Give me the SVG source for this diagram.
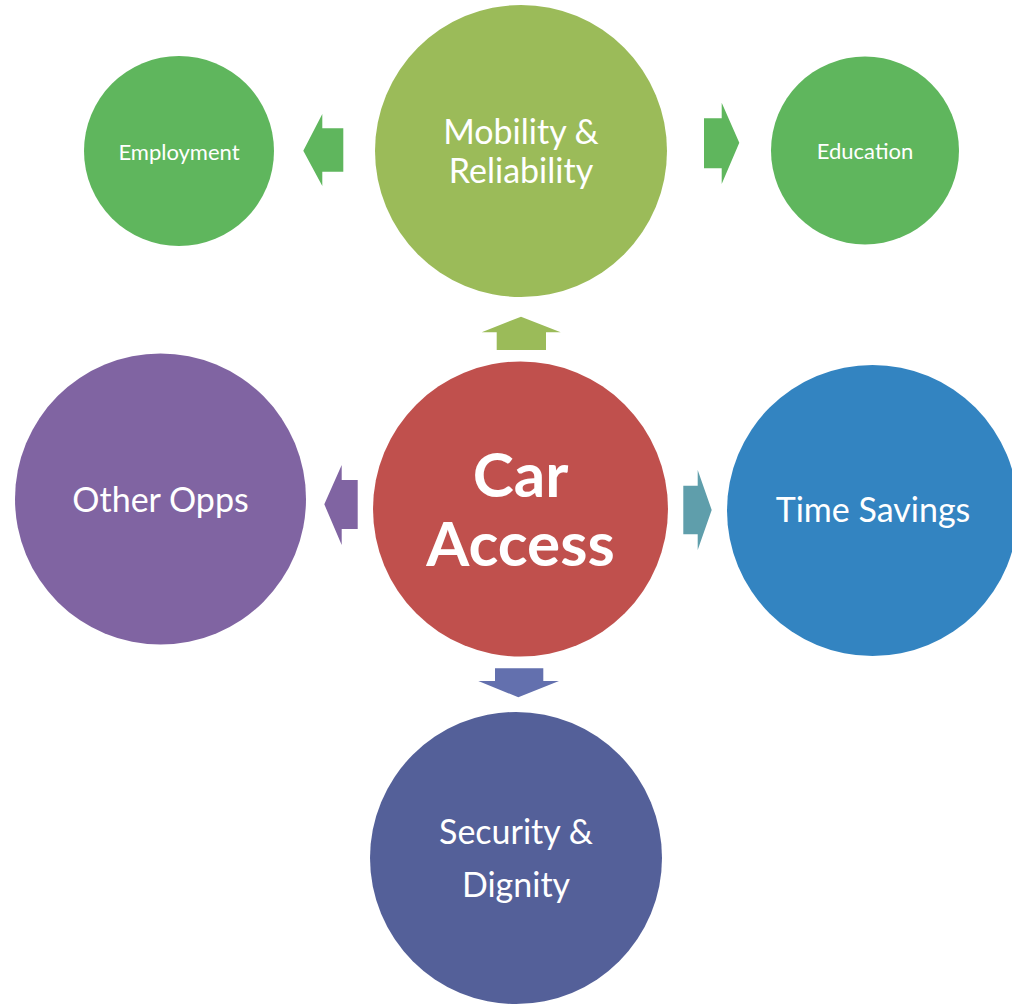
<svg xmlns="http://www.w3.org/2000/svg" width="1012" height="1005" viewBox="0 0 1012 1005">
  <style>
    .lbl { font-family: Lato, "Liberation Sans", sans-serif; fill: #ffffff; text-anchor: middle; }
    .sm { font-size: 22px; }
    .md { font-size: 34px; }
    .lg { font-size: 62px; font-weight: bold; }
  </style>
  <rect width="1012" height="1005" fill="#ffffff"/>

  <!-- block arrows between the centre and outer circles -->
  <g id="connectors">
    <polygon fill="#9bbb59" points="496.7,350 496.7,332.3 481.7,332.3 521,316.7 560.7,332.3 546,332.3 546,350"/>
    <polygon fill="#5fb65d" points="343.3,128.3 322.3,128.3 322.3,114 303.3,150.7 322.3,186 322.3,171.7 343.3,171.7"/>
    <polygon fill="#5fb65d" points="704,118.3 721.7,118.3 721.7,102.7 739.3,142.7 721.7,184 721.7,168.3 704,168.3"/>
    <polygon fill="#8064a2" points="357.7,480 341.7,480 341.7,465 324.3,504.3 341.7,545 341.7,529 357.7,529"/>
    <polygon fill="#5f9eab" points="683.3,485.7 697.7,485.7 697.7,470 711.7,510 697.7,550 697.7,534.3 683.3,534.3"/>
    <polygon fill="#6370ae" points="495,668.3 543.3,668.3 543.3,681 559,681 518.3,697.3 478.3,681 495,681"/>
  </g>

  <g id="employment">
    <circle cx="179" cy="151" r="95" fill="#5fb65d"/>
    <text class="lbl sm" x="179" y="159.5">Employment</text>
  </g>

  <g id="mobility">
    <circle cx="521" cy="151" r="146" fill="#9bbb59"/>
    <text class="lbl md" x="521" y="144">Mobility &amp;</text>
    <text class="lbl md" x="521" y="183">Reliability</text>
  </g>

  <g id="education">
    <circle cx="865" cy="150.5" r="94" fill="#5fb65d"/>
    <text class="lbl sm" x="865" y="159">Education</text>
  </g>

  <g id="other-opps">
    <circle cx="160.5" cy="499" r="145.5" fill="#8064a2"/>
    <text class="lbl md" x="160.5" y="512">Other Opps</text>
  </g>

  <g id="car-access">
    <circle cx="520.5" cy="509" r="147.5" fill="#c0504d"/>
    <text class="lbl lg" x="520.5" y="497">Car</text>
    <text class="lbl lg" x="520.5" y="566">Access</text>
  </g>

  <g id="time-savings">
    <circle cx="872.5" cy="510.5" r="145.5" fill="#3384c1"/>
    <text class="lbl md" x="873" y="522">Time Savings</text>
  </g>

  <g id="security">
    <circle cx="516" cy="858" r="146" fill="#546099"/>
    <text class="lbl md" x="516" y="844">Security &amp;</text>
    <text class="lbl md" x="516" y="897">Dignity</text>
  </g>
</svg>
